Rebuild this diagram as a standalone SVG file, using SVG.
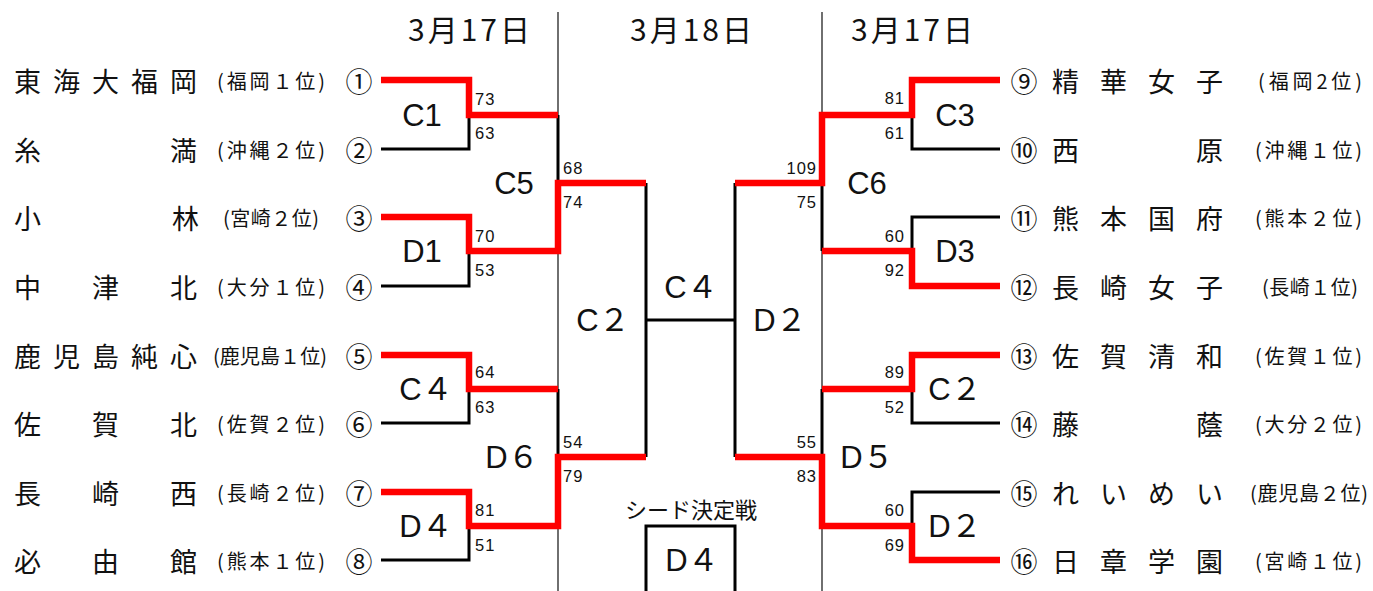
<svg xmlns="http://www.w3.org/2000/svg" width="1373" height="591" viewBox="0 0 1373 591">
<style>
text{font-family:"Noto Sans CJK JP","Liberation Sans",sans-serif;fill:#111;dominant-baseline:central}
.hd{font-size:30px}
.nm{font-size:27px}
.pf{font-size:20px}
.cn{font-size:27px;text-anchor:middle}
.sc{font-family:"Liberation Sans","Noto Sans",sans-serif;font-size:16.5px;letter-spacing:1px}
.scr{font-family:"Liberation Sans","Noto Sans",sans-serif;font-size:16.5px;letter-spacing:1px;text-anchor:end}
.mt{font-family:"Liberation Sans","Noto Sans CJK JP",sans-serif;font-size:31px;text-anchor:middle}
.bk{fill:none;stroke:#000;stroke-width:3;stroke-linejoin:miter}
.rd{fill:none;stroke:#f00;stroke-width:6.5;stroke-linejoin:miter;stroke-linecap:butt}
.sep{stroke:#222;stroke-width:1.3}
</style>
<g id="headers">
<text class="hd" x="408" y="28" textLength="122">3月17日</text>
<text class="hd" x="630" y="28" textLength="122">3月18日</text>
<text class="hd" x="851" y="28" textLength="122">3月17日</text>
<line class="sep" x1="558" y1="12" x2="558" y2="591"/>
<line class="sep" x1="822" y1="12" x2="822" y2="591"/>
</g>
<g id="connectors">
<polyline class="bk" points="381,149 469,149 469,115"/>
<polyline class="bk" points="381,286 469,286 469,251"/>
<polyline class="bk" points="558,115 558,183"/>
<polyline class="bk" points="381,423 469,423 469,389"/>
<polyline class="bk" points="381,560 469,560 469,526"/>
<polyline class="bk" points="558,389 558,457"/>
<polyline class="bk" points="646,183 646,457"/>
<polyline class="bk" points="646,320 735,320"/>
<polyline class="bk" points="735,183 735,457"/>
<polyline class="bk" points="1000,149 912,149 912,115"/>
<polyline class="bk" points="822,183 822,251"/>
<polyline class="bk" points="1000,217 912,217 912,251"/>
<polyline class="bk" points="822,389 822,457"/>
<polyline class="bk" points="1000,423 912,423 912,389"/>
<polyline class="bk" points="1000,492 912,492 912,526"/>
<polyline class="bk" points="646,595 646,526 735,526 735,595"/>
<polyline class="rd" points="381,80 469,80 469,115 558,115"/>
<polyline class="rd" points="381,217 469,217 469,251 558,251 558,183 646,183"/>
<polyline class="rd" points="381,355 469,355 469,389 558,389"/>
<polyline class="rd" points="381,492 469,492 469,526 558,526 558,457 646,457"/>
<polyline class="rd" points="735,183 822,183 822,115 912,115 912,80 1000,80"/>
<polyline class="rd" points="822,251 912,251 912,286 1000,286"/>
<polyline class="rd" points="735,457 822,457 822,526 912,526 912,560 1000,560"/>
<polyline class="rd" points="822,389 912,389 912,355 1000,355"/>
</g>
<g id="team1"><text class="nm" x="14 53 92 131 170" y="80">東海大福岡</text><text class="pf" x="217" y="80" textLength="108">(福岡１位)</text><text class="cn" x="359" y="80">①</text></g>
<g id="team2"><text class="nm" x="14 170" y="149">糸満</text><text class="pf" x="217" y="149" textLength="108">(沖縄２位)</text><text class="cn" x="359" y="149">②</text></g>
<g id="team3"><text class="nm" x="14 172" y="217">小林</text><text class="pf" x="223" y="217" textLength="96">(宮崎２位)</text><text class="cn" x="359" y="217">③</text></g>
<g id="team4"><text class="nm" x="14 92 170" y="286">中津北</text><text class="pf" x="217" y="286" textLength="108">(大分１位)</text><text class="cn" x="359" y="286">④</text></g>
<g id="team5"><text class="nm" x="14 53 92 131 170" y="355">鹿児島純心</text><text class="pf" x="213" y="355" textLength="114">(鹿児島１位)</text><text class="cn" x="359" y="355">⑤</text></g>
<g id="team6"><text class="nm" x="14 92 170" y="423">佐賀北</text><text class="pf" x="217" y="423" textLength="108">(佐賀２位)</text><text class="cn" x="359" y="423">⑥</text></g>
<g id="team7"><text class="nm" x="14 92 170" y="492">長崎西</text><text class="pf" x="217" y="492" textLength="108">(長崎２位)</text><text class="cn" x="359" y="492">⑦</text></g>
<g id="team8"><text class="nm" x="14 92 170" y="560">必由館</text><text class="pf" x="217" y="560" textLength="108">(熊本１位)</text><text class="cn" x="359" y="560">⑧</text></g>
<g id="team9"><text class="cn" x="1024" y="80">⑨</text><text class="nm" x="1052 1100 1148 1196" y="80">精華女子</text><text class="pf" x="1258" y="80" textLength="104">(福岡2位)</text></g>
<g id="team10"><text class="cn" x="1024" y="149">⑩</text><text class="nm" x="1052 1196" y="149">西原</text><text class="pf" x="1255" y="149" textLength="107">(沖縄１位)</text></g>
<g id="team11"><text class="cn" x="1024" y="217">⑪</text><text class="nm" x="1052 1100 1148 1196" y="217">熊本国府</text><text class="pf" x="1255" y="217" textLength="107">(熊本２位)</text></g>
<g id="team12"><text class="cn" x="1024" y="286">⑫</text><text class="nm" x="1052 1100 1148 1196" y="286">長崎女子</text><text class="pf" x="1262" y="286" textLength="96">(長崎１位)</text></g>
<g id="team13"><text class="cn" x="1024" y="355">⑬</text><text class="nm" x="1052 1100 1148 1196" y="355">佐賀清和</text><text class="pf" x="1255" y="355" textLength="107">(佐賀１位)</text></g>
<g id="team14"><text class="cn" x="1024" y="423">⑭</text><text class="nm" x="1052 1196" y="423">藤蔭</text><text class="pf" x="1255" y="423" textLength="107">(大分２位)</text></g>
<g id="team15"><text class="cn" x="1024" y="492">⑮</text><text class="nm" x="1052 1100 1148 1196" y="492">れいめい</text><text class="pf" x="1250" y="492" textLength="118">(鹿児島２位)</text></g>
<g id="team16"><text class="cn" x="1024" y="560">⑯</text><text class="nm" x="1052 1100 1148 1196" y="560">日章学園</text><text class="pf" x="1255" y="560" textLength="107">(宮崎１位)</text></g>
<g id="matches">
<text class="mt" x="422" y="115">C1</text>
<text class="mt" x="422" y="251">D1</text>
<text class="mt" x="514" y="183">C5</text>
<text class="mt" x="426" y="389">C４</text>
<text class="mt" x="426" y="526">D４</text>
<text class="mt" x="512" y="457">D６</text>
<text class="mt" x="603" y="320">C２</text>
<text class="mt" x="691" y="287">C４</text>
<text class="mt" x="780" y="320">D２</text>
<text class="mt" x="955" y="115">C3</text>
<text class="mt" x="867" y="183">C6</text>
<text class="mt" x="955" y="251">D3</text>
<text class="mt" x="955" y="389">C２</text>
<text class="mt" x="867" y="457">D５</text>
<text class="mt" x="955" y="526">D２</text>
</g>
<g id="seed">
<text x="691" y="508" style="font-size:22px;text-anchor:middle">シード決定戦</text>
<text class="mt" x="692" y="560">D４</text>
</g>
<g id="scores">
<text class="sc" x="475" y="99">73</text>
<text class="sc" x="475" y="133">63</text>
<text class="sc" x="563" y="168">68</text>
<text class="sc" x="563" y="202">74</text>
<text class="sc" x="475" y="236">70</text>
<text class="sc" x="475" y="270">53</text>
<text class="sc" x="475" y="372">64</text>
<text class="sc" x="475" y="407">63</text>
<text class="sc" x="563" y="442">54</text>
<text class="sc" x="563" y="476">79</text>
<text class="sc" x="475" y="510">81</text>
<text class="sc" x="475" y="545">51</text>
<text class="scr" x="905" y="98">81</text>
<text class="scr" x="905" y="133">61</text>
<text class="scr" x="817" y="168">109</text>
<text class="scr" x="817" y="202">75</text>
<text class="scr" x="905" y="236">60</text>
<text class="scr" x="905" y="270">92</text>
<text class="scr" x="905" y="372">89</text>
<text class="scr" x="905" y="407">52</text>
<text class="scr" x="817" y="442">55</text>
<text class="scr" x="817" y="476">83</text>
<text class="scr" x="905" y="510">60</text>
<text class="scr" x="905" y="545">69</text>
</g>
</svg>
